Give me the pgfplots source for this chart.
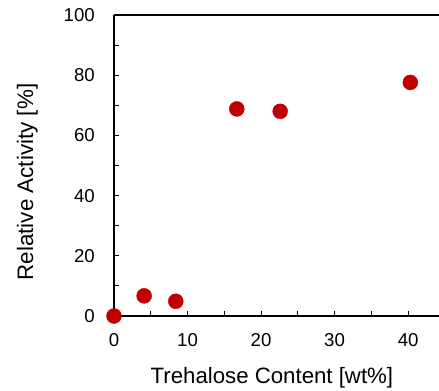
\documentclass[border=0pt]{standalone}
\usepackage{fontspec}
\setmainfont{Liberation Sans}
\usepackage{pgfplots}
\pgfplotsset{compat=1.18}
\usetikzlibrary{calc}
\definecolor{dred}{HTML}{C00000}
\begin{document}
\begin{tikzpicture}
\begin{axis}[
  name=ax,
  scale only axis,
  width=325bp, height=301bp,
  xmin=0, xmax=44.2, ymin=0, ymax=100,
  axis x line=box, axis y line=left,
  xtick pos=bottom, ytick pos=left,
  xtick={0,10,20,30,40}, minor xtick={5,15,25,35},
  ytick={0,20,40,60,80,100}, minor ytick={10,30,50,70,90},
  tick align=inside,
  major tick length=5bp, minor tick length=5bp,
  axis line style={line width=1.3bp, -},
  every tick/.style={black, line width=0.9bp},
  tick label style={font=\fontsize{18.7}{20}\selectfont, inner sep=0pt},
  xticklabel style={anchor=center, yshift=-24bp},
  yticklabel style={anchor=east, xshift=-19bp},
  /pgf/number format/assume math mode=true,
  xlabel={Trehalose Content [wt\%]},
  ylabel={Relative Activity [\%]},
  every axis x label/.style={at={(axis description cs:0.486,-0.2226)}, anchor=base, font=\fontsize{22.3}{24}\selectfont},
  every axis y label/.style={at={(axis description cs:-0.2492,0.445)}, anchor=base, rotate=90, font=\fontsize{22.5}{24}\selectfont},
  clip=false,
]
\addplot[only marks, mark=*, mark size=7.5bp, color=dred, mark options={draw=dred, fill=dred}] coordinates {
 (0,0) (4.1,6.7) (8.4,4.9) (16.7,68.8) (22.6,68.0) (40.3,77.6)
};
\end{axis}
\pgfresetboundingbox
\path[use as bounding box] ($(ax.south west)+(-114bp,-75bp)$) rectangle ($(ax.south west)+(325bp,316bp)$);
\end{tikzpicture}
\end{document}
